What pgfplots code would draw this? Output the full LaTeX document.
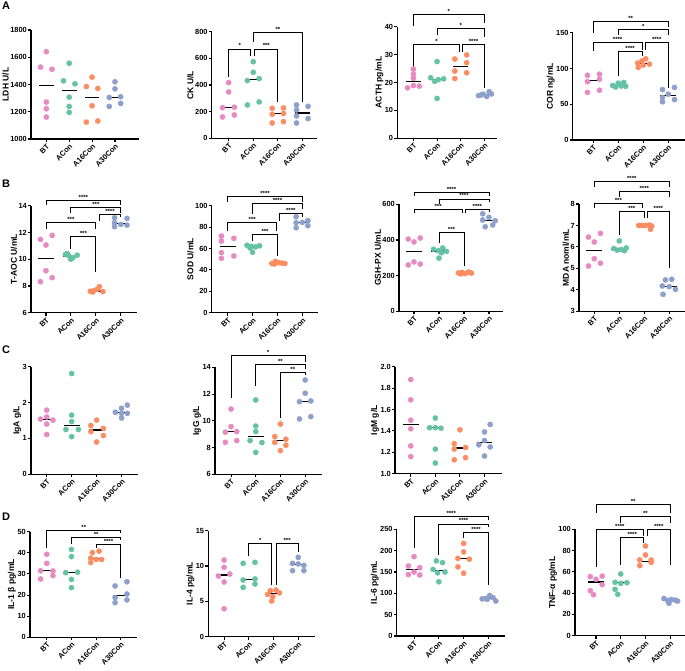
\documentclass[border=0pt]{standalone}
\usepackage{fontspec}
\setmainfont{Liberation Sans}
\usepackage{pgfplots}
\pgfplotsset{compat=1.18}
\definecolor{cBT}{HTML}{E78AC3}
\definecolor{cAC}{HTML}{66C2A5}
\definecolor{cSix}{HTML}{FC8D62}
\definecolor{cThr}{HTML}{8DA0CB}
\newcommand\fs[1]{\fontsize{#1}{#1}\selectfont\bfseries}
\pgfplotsset{
 prism/.style={
  scale only axis, clip=false, anchor=south west,
  axis lines=left, axis line style={line width=1.1pt,-},
  tick style={line width=1.1pt, black},
  major tick length=3pt, tick align=outside,
  xtick={0,1,2,3}, xticklabels={BT,ACon,A16Con,A30Con},
  xticklabel style={rotate=45, anchor=north east, inner sep=0.8pt, font=\fs{7.5}},
  yticklabel style={font=\fs{7.4}, inner sep=1pt},
  ylabel style={font=\fs{8.5}},
  ylabel shift=-3pt,
  /pgf/number format/assume math mode=true,
  /pgf/number format/1000 sep={},
 },
 g0/.style={only marks, color=cBT, mark=*, mark size=2.6pt, mark options={draw=cBT, fill=cBT, line width=0.4pt, solid}},
 g1/.style={only marks, color=cAC, mark=*, mark size=2.6pt, mark options={draw=cAC, fill=cAC, line width=0.4pt, solid}},
 g2/.style={only marks, color=cSix, mark=*, mark size=2.6pt, mark options={draw=cSix, fill=cSix, line width=0.4pt, solid}},
 g3/.style={only marks, color=cThr, mark=*, mark size=2.6pt, mark options={draw=cThr, fill=cThr, line width=0.4pt, solid}},
 med/.style={black, line width=1.1pt, no marks, forget plot},
}
\newcommand\med[3]{\addplot[med] coordinates {(#1,#3) (#2,#3)};}
\newcommand\meds[4]{\med{-0.32}{0.32}{#1}\med{0.68}{1.32}{#2}\med{1.68}{2.32}{#3}\med{2.68}{3.32}{#4}}
\newcommand\brk[6]{\draw[line width=0.9pt] (axis cs:#1,#4) -- (axis cs:#1,#3) -- node[above, font=\fs{6}, inner sep=0.6pt]{#6} (axis cs:#2,#3) -- (axis cs:#2,#5);}
\begin{document}
\begin{tikzpicture}
\path[use as bounding box] (0,0) rectangle (685pt,670pt);
\node[font=\fs{11}, anchor=north west, inner sep=0pt] at (2pt,668pt) {A};
\node[font=\fs{11}, anchor=north west, inner sep=0pt] at (2pt,490pt) {B};
\node[font=\fs{11}, anchor=north west, inner sep=0pt] at (2pt,324pt) {C};
\node[font=\fs{11}, anchor=north west, inner sep=0pt] at (2pt,157pt) {D};

% ---------- Row A ----------
\begin{axis}[prism, at={(31pt,531pt)}, width=108pt, height=109pt, xmin=-0.67, xmax=4.05, ymin=1000, ymax=1800, ytick={1000,1200,...,1800}, ylabel={LDH U/L}]
\addplot[g0] coordinates {(0,1641) (-0.25,1527) (0.25,1512) (0,1271) (0,1222) (0,1161)};
\addplot[g1] coordinates {(1,1556) (0.75,1427) (1.25,1405) (1,1307) (1,1239) (1,1195)};
\addplot[g2] coordinates {(2,1454) (1.75,1385) (2.25,1371) (2,1244) (1.75,1124) (2.25,1132)};
\addplot[g3] coordinates {(3,1420) (3,1368) (2.75,1305) (3.25,1310) (2.75,1239) (3.25,1261)};
\meds{1390}{1356}{1307}{1307}
\end{axis}

\begin{axis}[prism, at={(211.7pt,531.7pt)}, width=105pt, height=106.6pt, xmin=-0.69, xmax=3.58, ymin=0, ymax=800, ytick={0,200,...,800}, ylabel={CK U/L}]
\addplot[g0] coordinates {(0,418) (0,348) (-0.25,230) (0.23,233) (-0.25,160) (0.23,175)};
\addplot[g1] coordinates {(1,575) (1,495) (0.76,433) (1.24,448) (0.76,250) (1.24,273)};
\addplot[g2] coordinates {(1.77,225) (2.23,228) (1.77,180) (2.23,186) (1.77,115) (2.23,125)};
\addplot[g3] coordinates {(2.76,250) (3.23,240) (2.76,213) (2.76,168) (3.23,148) (2.76,115)};
\meds{231}{440}{183}{190}
\brk{0}{0.9}{670}{463}{618}{*}
\brk{1.06}{2}{670}{618}{275}{***}
\brk{1}{3}{795}{720}{275}{**}
\end{axis}

\begin{axis}[prism, at={(397.3pt,531.7pt)}, width=99.4pt, height=111.6pt, xmin=-0.68, xmax=3.52, ymin=0, ymax=40, ytick={0,10,...,40}, ylabel={ACTH pg/mL}]
\addplot[g0] coordinates {(0,24.8) (0,23.0) (0,21.5) (-0.25,18.1) (0,18.9) (0.25,18.7)};
\addplot[g1] coordinates {(1,27.5) (0.73,21.7) (1.05,21.0) (1.28,21.3) (0.9,20.4) (1,14.3)};
\addplot[g2] coordinates {(1.75,28.4) (2.25,29.9) (2.25,27.1) (1.75,24.1) (2.25,23.5) (1.75,21.4)};
\addplot[g3] coordinates {(2.75,15.3) (2.95,15.8) (3.2,16.7) (2.85,15.5) (3.1,15.0) (3.3,15.9)};
\meds{20.2}{21.1}{25.6}{15.6}
\brk{0}{3}{44.4}{40.4}{41.4}{*}
\brk{1}{3}{39.2}{37}{36.2}{*}
\brk{0}{1.95}{33.7}{25.7}{31}{*}
\brk{2.08}{3}{33.7}{31}{17.9}{****}
\end{axis}

\begin{axis}[prism, at={(572.7pt,530pt)}, width=112.3pt, height=107.3pt, xmin=-0.82, xmax=3.67, ymin=0, ymax=150, ytick={0,50,100,150}, ylabel={COR ng/mL}]
\addplot[g0] coordinates {(-0.23,90.5) (0.25,92) (-0.23,81.5) (0.25,85) (-0.23,66.5) (0.25,69.5)};
\addplot[g1] coordinates {(0.78,76) (1.0,79.5) (1.22,80.5) (0.9,74) (1.12,75.5) (1.3,75)};
\addplot[g2] coordinates {(1.78,107.5) (1.95,110.5) (2.1,113.5) (2.25,106) (2.0,104.5) (1.8,101.5)};
\addplot[g3] coordinates {(2.77,70.5) (3.25,73.5) (3.0,64) (2.77,59.5) (3.25,56.5) (2.77,53.5)};
\meds{83}{75.8}{107}{62}
\brk{0}{3}{165.4}{150}{158}{**}
\brk{1}{3}{155}{147}{147}{*}
\brk{0}{1.95}{136}{125}{126}{****}
\brk{1}{1.95}{123.4}{89.4}{117.5}{****}
\brk{2.08}{3}{136}{126}{72}{****}
\end{axis}

% ---------- Row B ----------
\begin{axis}[prism, at={(31pt,357.3pt)}, width=106pt, height=107pt, xmin=-0.6, xmax=3.65, ymin=6, ymax=14, ytick={6,8,...,14}, ylabel={T-AOC U/mL}]
\addplot[g0] coordinates {(-0.22,11.48) (0.25,11.78) (0,11.06) (0,9.14) (-0.22,8.32) (0.25,8.62)};
\addplot[g1] coordinates {(0.78,10.35) (0.92,10.25) (1.08,10.12) (1.25,10.3) (1.0,10.0) (0.85,10.42)};
\addplot[g2] coordinates {(1.78,7.6) (1.92,7.65) (2.06,7.75) (2.14,7.95) (2.28,7.58) (1.88,7.55)};
\addplot[g3] coordinates {(2.75,13.1) (3.25,13.05) (2.75,12.73) (3.0,12.6) (2.75,12.43) (3.25,12.55)};
\meds{10.08}{10.22}{7.62}{12.67}
\brk{0}{3}{14.37}{14.05}{14.05}{****}
\brk{1}{3}{13.87}{13.43}{13.45}{***}
\brk{2.13}{3}{13.35}{12.88}{13.18}{****}
\brk{0}{2}{12.73}{12.23}{12.23}{***}
\brk{1}{2}{11.68}{10.8}{9.07}{***}
\end{axis}

\begin{axis}[prism, at={(211.7pt,357.3pt)}, width=106.6pt, height=107pt, xmin=-0.64, xmax=3.64, ymin=0, ymax=100, ytick={0,20,...,100}, ylabel={SOD U/mL}]
\addplot[g0] coordinates {(-0.25,71.6) (0.25,69.5) (-0.25,67) (-0.25,56.1) (-0.25,50.8) (0.25,53)};
\addplot[g1] coordinates {(0.78,63) (0.95,62) (1.12,61.5) (1.28,62.5) (1.0,56.5) (0.9,60.5)};
\addplot[g2] coordinates {(1.78,46) (1.92,48) (2.05,46.8) (2.18,46.3) (2.3,46) (1.88,45.5)};
\addplot[g3] coordinates {(2.75,89.7) (2.75,84.1) (3.0,84.4) (3.22,86) (2.75,79.4) (3.22,81.3)};
\meds{61.5}{61.8}{46.2}{84.25}
\brk{0}{3}{109}{103}{103}{****}
\brk{1}{3}{102.2}{92.2}{96.6}{****}
\brk{2.07}{3}{92.8}{86}{89.7}{****}
\brk{0}{1.97}{84.1}{76.3}{76.3}{***}
\brk{1}{2}{73.5}{67.3}{53}{***}
\end{axis}

\begin{axis}[prism, at={(399pt,358.7pt)}, width=103.7pt, height=107pt, xmin=-0.6, xmax=3.55, ymin=0, ymax=600, ytick={0,200,400,600}, ylabel={GSH-PX U/mL}]
\addplot[g0] coordinates {(-0.23,405) (0.25,411) (0,389) (0,277) (-0.23,260) (0.25,265)};
\addplot[g1] coordinates {(0.78,348) (0.98,340) (1.15,355) (1.3,336) (1.1,328) (1.0,298)};
\addplot[g2] coordinates {(1.78,215) (1.92,218) (2.05,212) (2.18,220) (2.3,214) (1.88,210)};
\addplot[g3] coordinates {(2.75,547) (3.0,527) (2.75,512) (3.25,508) (2.85,474) (3.15,484)};
\meds{333}{338}{214.5}{510}
\brk{0}{3}{665}{647}{647}{****}
\brk{1}{3}{630}{600}{611}{****}
\brk{0}{1.93}{572}{549}{549}{***}
\brk{2.07}{3}{572}{549}{556}{****}
\brk{1}{2}{441}{385}{254}{***}
\end{axis}

\begin{axis}[prism, at={(579pt,358.7pt)}, width=106pt, height=107.3pt, xmin=-0.61, xmax=3.63, ymin=3, ymax=8, ytick={3,4,...,8}, ylabel={MDA noml/mL}]
\addplot[g0] coordinates {(-0.23,6.46) (0.25,6.63) (0,6.23) (0,5.45) (-0.23,5.11) (0.25,5.24)};
\addplot[g1] coordinates {(1,6.28) (0.78,5.92) (0.92,5.85) (1.08,5.88) (1.2,5.82) (1.28,5.95)};
\addplot[g2] coordinates {(1.78,7.0) (1.92,7.0) (2.05,7.0) (2.2,7.02) (2.3,6.97) (2.25,6.82)};
\addplot[g3] coordinates {(2.85,4.46) (3.1,4.49) (2.72,4.18) (3.0,4.15) (3.25,4.02) (2.75,3.79)};
\meds{5.84}{5.88}{7.0}{4.165}
\brk{0}{3}{9.04}{8.81}{8.81}{****}
\brk{1}{3}{8.58}{8.34}{8.34}{****}
\brk{0}{1.93}{8.03}{7.8}{7.83}{***}
\brk{1}{2}{7.64}{6.56}{7.36}{***}
\brk{2.13}{3}{7.64}{7.36}{5.0}{****}
\end{axis}

% ---------- Row C ----------
\begin{axis}[prism, at={(31pt,195.7pt)}, width=107.3pt, height=107.6pt, xmin=-0.63, xmax=3.67, ymin=0, ymax=3, ytick={0,1,2,3}, ylabel={IgA g/L}]
\addplot[g0] coordinates {(0,1.79) (0,1.60) (-0.25,1.54) (0.25,1.51) (0,1.40) (0,1.11)};
\addplot[g1] coordinates {(1,2.81) (1,1.65) (1,1.47) (0.77,1.25) (1.27,1.25) (1,1.05)};
\addplot[g2] coordinates {(2,1.51) (1.77,1.36) (2.27,1.28) (1.77,1.19) (2.27,1.08) (2,0.9)};
\addplot[g3] coordinates {(3.23,1.93) (3,1.84) (2.75,1.73) (3,1.70) (3.23,1.70) (3,1.57)};
\meds{1.53}{1.36}{1.235}{1.715}
\end{axis}

\begin{axis}[prism, at={(215pt,195.7pt)}, width=106.7pt, height=107pt, xmin=-0.65, xmax=3.67, ymin=6, ymax=14, ytick={6,8,...,14}, ylabel={IgG g/L}]
\addplot[g0] coordinates {(0,10.88) (0,9.56) (-0.23,9.15) (0.23,9.19) (-0.23,8.39) (0.23,8.52)};
\addplot[g1] coordinates {(1,11.56) (1,9.61) (1,9.19) (0.77,8.52) (1.25,8.37) (1,7.64)};
\addplot[g2] coordinates {(2,9.76) (1.77,8.82) (2.22,8.62) (1.77,8.39) (2.22,8.17) (2,7.77)};
\addplot[g3] coordinates {(3,13.05) (3,12.06) (2.77,11.43) (3.23,11.48) (2.77,10.14) (3.23,10.31)};
\meds{9.17}{8.86}{8.5}{11.455}
\brk{0}{3}{14.85}{11.68}{14.42}{*}
\brk{1}{3}{14.22}{12.63}{13.85}{**}
\brk{2}{3}{13.63}{10.24}{13.43}{**}
\end{axis}

\begin{axis}[prism, at={(395pt,196.3pt)}, width=106.7pt, height=107pt, xmin=-0.64, xmax=3.7, ymin=1, ymax=2, ytick={1,1.2,1.4,1.6,1.8,2}, yticklabel style={/pgf/number format/.cd, fixed, fixed zerofill, precision=1}, ylabel={IgM g/L}]
\addplot[g0] coordinates {(0,1.88) (0,1.69) (0,1.50) (0,1.42) (0,1.26) (0,1.16)};
\addplot[g1] coordinates {(1,1.52) (0.77,1.43) (1.0,1.43) (1.23,1.425) (1,1.23) (1,1.10)};
\addplot[g2] coordinates {(2,1.41) (1.77,1.28) (1.77,1.23) (2.23,1.245) (2.23,1.15) (1.77,1.13)};
\addplot[g3] coordinates {(3.23,1.46) (3,1.39) (3,1.31) (2.77,1.27) (3.23,1.25) (3,1.165)};
\meds{1.46}{1.43}{1.24}{1.29}
\end{axis}

% ---------- Row D ----------
\begin{axis}[prism, at={(30pt,32.7pt)}, width=107.3pt, height=105.6pt, xmin=-0.68, xmax=3.67, ymin=0, ymax=50, ytick={0,10,...,50}, ylabel={IL-1 β pg/mL}]
\addplot[g0] coordinates {(0,39.3) (0,35.0) (-0.25,31.5) (0.25,31.4) (-0.25,27.6) (0.25,29.2)};
\addplot[g1] coordinates {(1,41.6) (1,38.2) (0.77,30.6) (1.25,30.8) (1,27.4) (1,23.5)};
\addplot[g2] coordinates {(1.85,40.1) (2.12,40.8) (1.78,37.5) (2.22,36.8) (1.78,35.4) (2.0,36.9)};
\addplot[g3] coordinates {(2.77,24.3) (3.25,26.3) (2.77,18.8) (3.25,20.5) (2.77,16.4) (3.25,17.7)};
\meds{31.45}{30.7}{37.2}{19.65}
\brk{0}{3}{50.5}{42.1}{49.2}{**}
\brk{1}{3}{47.2}{44}{46}{**}
\brk{2}{3}{44}{42.1}{28.2}{****}
\end{axis}

\begin{axis}[prism, at={(208.3pt,33.3pt)}, width=106.7pt, height=106pt, xmin=-0.64, xmax=3.68, ymin=0, ymax=15, ytick={0,5,10,15}, ylabel={IL-4 pg/mL}]
\addplot[g0] coordinates {(0,10.85) (0,9.81) (-0.23,8.58) (0.23,8.87) (0,7.74) (0,3.96)};
\addplot[g1] coordinates {(0.77,10.38) (1.25,10.52) (0.77,8.02) (1.25,8.16) (0.77,6.98) (1.25,7.45)};
\addplot[g2] coordinates {(1.87,6.51) (2.1,6.6) (1.76,5.99) (2.24,6.2) (1.97,5.66) (1.93,5.05)};
\addplot[g3] coordinates {(3,11.23) (2.77,10.38) (3.23,10.1) (3.0,10.3) (2.77,9.34) (3.23,9.34)};
\meds{8.73}{8.09}{6.05}{10.2}
\brk{1}{1.93}{13.2}{11.4}{7.3}{*}
\brk{2.1}{3}{13.2}{7.3}{12.0}{***}
\end{axis}

\begin{axis}[prism, at={(396.7pt,34pt)}, width=108.3pt, height=106.7pt, xmin=-0.7, xmax=3.67, ymin=0, ymax=250, ytick={0,50,...,250}, ylabel={IL-6 pg/mL}]
\addplot[g0] coordinates {(0,186) (-0.23,164) (0.23,160) (0,150) (-0.23,144) (0.23,143)};
\addplot[g1] coordinates {(0.9,176) (1.15,172) (0.77,156) (1.25,150) (0.95,148) (1,127)};
\addplot[g2] coordinates {(2,217) (2,197) (1.77,182) (2.23,180) (1.77,162) (2,147)};
\addplot[g3] coordinates {(2.75,87) (2.9,88) (3.05,95) (3.18,90) (3.3,82) (2.95,86)};
\meds{155}{153}{181}{87.5}
\brk{0}{3}{281}{207}{272}{****}
\brk{1}{3}{262.5}{190}{256}{****}
\brk{2}{3}{243}{229}{119.5}{****}
\end{axis}

\begin{axis}[prism, at={(575pt,34.3pt)}, width=110pt, height=106.4pt, xmin=-0.85, xmax=3.6, ymin=0, ymax=100, ytick={0,20,...,100}, ylabel={TNF-α pg/mL}]
\addplot[g0] coordinates {(-0.23,55.5) (0.25,56) (0,53) (0.25,48) (-0.23,42.3) (-0.1,38.5)};
\addplot[g1] coordinates {(1,58) (0.77,50.2) (1.25,49.8) (1.0,49.2) (0.77,43.6) (0.88,38.9)};
\addplot[g2] coordinates {(2,84.3) (2,75.9) (1.77,71.2) (2.23,71.2) (1.77,65.8) (2.23,69)};
\addplot[g3] coordinates {(2.75,35) (2.9,33) (3.05,34) (3.2,33.5) (3.3,32.5) (2.95,30.5)};
\meds{50.5}{50}{70.1}{33.5}
\brk{0}{3}{123}{115}{115}{**}
\brk{1}{3}{112}{106}{106}{**}
\brk{0}{1.93}{99.4}{64.9}{93.7}{****}
\brk{1}{1.93}{92.2}{66.5}{87.5}{****}
\brk{2.07}{3}{99.4}{93.7}{66.5}{****}
\end{axis}
\end{tikzpicture}
\end{document}
